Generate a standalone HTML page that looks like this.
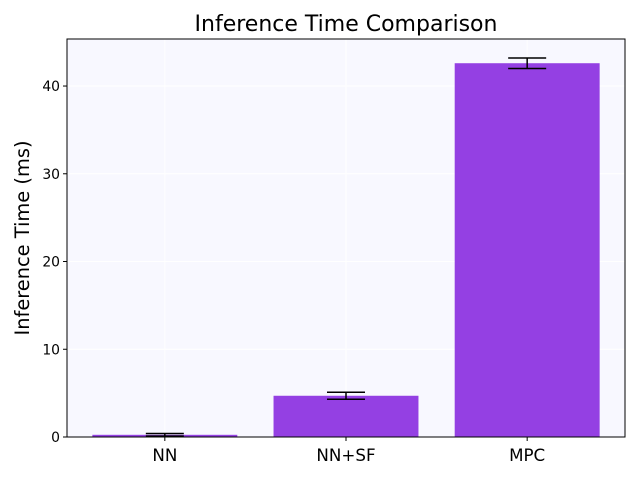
<!DOCTYPE html>
<html><head><meta charset="utf-8"><style>
body{margin:0;background:#fff;}
svg{display:block;font-family:"DejaVu Sans","Liberation Sans",sans-serif;}
</style></head><body>
<svg id="chart" width="640" height="480">
<rect x="0" y="0" width="640" height="480" fill="#fff"/>
<rect x="67" y="39" width="558" height="398" fill="#f8f8ff"/>
<g id="grid"></g><g id="bars"></g><g id="errs"></g><g id="axes"></g>
<text x="346" y="31" text-anchor="middle" font-size="22">Inference Time Comparison</text>
<text transform="translate(29,238) rotate(-90)" text-anchor="middle" font-size="19.4">Inference Time (ms)</text>
</svg>
<script>
const categories=["NN","NN+SF","MPC"];
const values=[0.25,4.7,42.6];
const errors=[0.15,0.4,0.6];
const yTicks=[0,10,20,30,40];
const NS="http://www.w3.org/2000/svg";
const L=67,R=625,T=39,B=437,yMax=45.36,xMin=-0.54,xMax=2.54;
const x=v=>L+(v-xMin)/(xMax-xMin)*(R-L);
const y=v=>B-v/yMax*(B-T);
function mk(tag,attrs,parent){const e=document.createElementNS(NS,tag);for(const k in attrs)e.setAttribute(k,attrs[k]);document.getElementById(parent).appendChild(e);return e;}
yTicks.forEach(t=>{
 const g=mk('line',{x1:L,x2:R,y1:y(t),y2:y(t),stroke:'#fff','stroke-width':1},'grid');
 
 
 const tk=mk('line',{x1:L-4,x2:L,y1:y(t),y2:y(t),stroke:'#000'},'axes');
 
 
 const lb=mk('text',{x:L-7,y:y(t)+5,'text-anchor':'end','font-size':13.9},'axes');
 lb.textContent=t;
 
 
});
categories.forEach((c,i)=>{
 const gl=mk('line',{x1:x(i),x2:x(i),y1:T,y2:B,stroke:'#fff'},'grid');
 
 
 const w=x(0.4)-x(0);
 const b=mk('rect',{x:x(i)-w,y:y(values[i]),width:2*w,height:B-y(values[i]),fill:'#9440e3'},'bars');
 
 
 const lo=y(values[i]-errors[i]),hi=y(values[i]+errors[i]);
 const el=mk('line',{x1:x(i),x2:x(i),y1:lo,y2:hi,stroke:'#000','stroke-width':1.5},'errs');
 
 
 [lo,hi].forEach(yy=>{
  const cp=mk('line',{x1:x(i)-19,x2:x(i)+19,y1:yy,y2:yy,stroke:'#000','stroke-width':1.5},'errs');
  
  
 });
 const tk=mk('line',{x1:x(i),x2:x(i),y1:B,y2:B+4,stroke:'#000'},'axes');
 
 
 const lb=mk('text',{x:x(i),y:B+24,'text-anchor':'middle','font-size':16.7},'axes');
 lb.textContent=c;
 
 
});
const fr=mk('rect',{x:L,y:T,width:R-L,height:B-T,fill:'none',stroke:'#000','stroke-width':1},'axes');


</script>
</body></html>
